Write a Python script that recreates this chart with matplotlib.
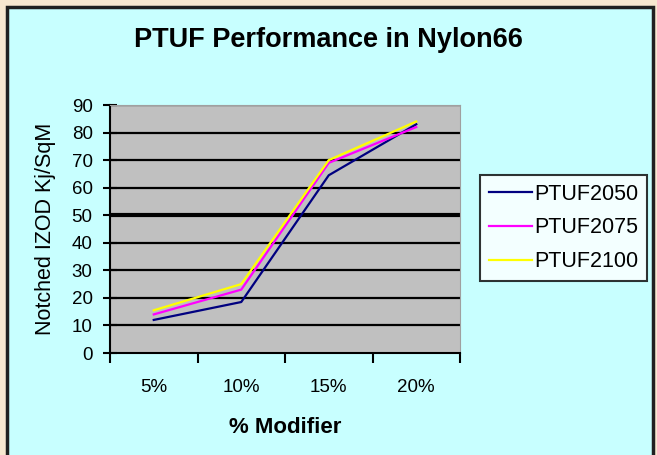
import matplotlib.pyplot as plt
from matplotlib.patches import Rectangle

categories = ['5%', '10%', '15%', '20%']
ptuf2050 = [12, 18.5, 64.5, 83]
ptuf2075 = [14, 23, 69, 82]
ptuf2100 = [15.5, 25, 70, 84]
series = [('PTUF2050', ptuf2050, '#000080'),
          ('PTUF2075', ptuf2075, '#FF00FF'),
          ('PTUF2100', ptuf2100, '#FFFF00')]
yticks = list(range(0, 100, 10))

plt.rcParams['font.family'] = ['Liberation Sans', 'DejaVu Sans']

fig = plt.figure(figsize=(6.57, 4.55), dpi=100)
fig.patch.set_facecolor('#F8E8D0')
# cyan chart panel with dark border, drawn behind the axes
fig.patches.append(Rectangle((7 / 657, -0.05), 646 / 657, 1.05 - 7 / 455,
                             transform=fig.transFigure, facecolor='#C8FFFF',
                             edgecolor='#202020', linewidth=2.5, zorder=-5))

ax = fig.add_axes([110 / 657, 1 - 353 / 455, 350 / 657, 248 / 455])
ax.set_facecolor('#C0C0C0')

x = list(range(len(categories)))
for name, vals, col in series:
    ax.plot(x, vals, color=col, linewidth=1.6, label=name, zorder=3)

ax.set_xlim(-0.5, len(categories) - 0.5)
ax.set_ylim(0, 90)
ax.set_yticks(yticks)
for v in yticks[1:]:
    ax.axhline(v, color='black', linewidth=3 if v == 50 else 1.6, zorder=2)

# tick marks at category boundaries, labels at category centres
ax.set_xticks([i - 0.5 for i in range(len(categories) + 1)])
ax.set_xticklabels([])
ax.set_xticks(x, minor=True)
ax.set_xticklabels(categories, minor=True)
ax.tick_params(axis='x', which='major', direction='out', length=7, width=1.5)
ax.tick_params(axis='x', which='minor', length=0, pad=19, labelsize=13.5)
ax.tick_params(axis='y', direction='inout', length=10, width=1.5, labelsize=13.5, pad=7.5)

for s in ['left', 'bottom']:
    ax.spines[s].set_linewidth(1.5)
for s in ['top', 'right']:
    ax.spines[s].set_color('#A0A0A0')
    ax.spines[s].set_linewidth(0.8)

ax.set_ylabel('Notched IZOD Kj/SqM', fontsize=15.5, labelpad=11)
ax.set_xlabel('% Modifier', fontsize=16, fontweight='bold', labelpad=15)
fig.text(0.5, 1 - 40 / 455, 'PTUF Performance in Nylon66', ha='center', va='center',
         fontsize=19.5, fontweight='bold')

leg = ax.legend(loc='center left', bbox_to_anchor=(480 / 657, 1 - 228 / 455),
                bbox_transform=fig.transFigure, fontsize=15.5, frameon=True,
                fancybox=False, edgecolor='black', handlelength=2.0,
                handletextpad=0.1, labelspacing=0.6, borderpad=0.4,
                borderaxespad=0)
leg.get_frame().set_linewidth(1.5)

plt.savefig('out.png', dpi=100)
